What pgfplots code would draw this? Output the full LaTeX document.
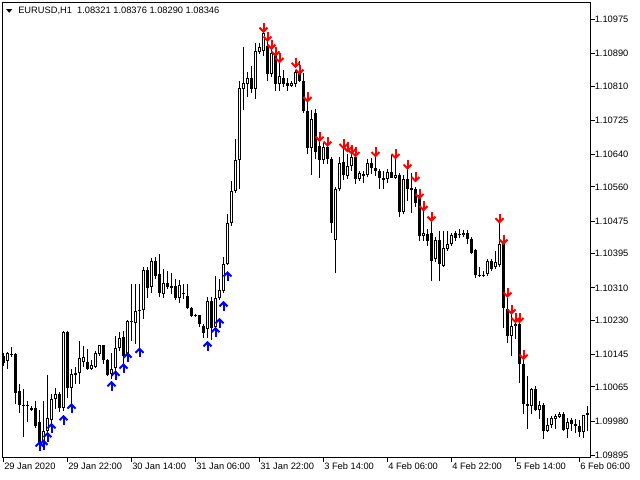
\documentclass[border=0pt]{standalone}
\usepackage{pgfplots}
\pgfplotsset{compat=1.18}
\usepackage{pgfplotstable}
\usepackage{fontspec}
\setmainfont{Liberation Sans}

\pgfplotstableread{
i o h l c
0 1.10143 1.10150 1.10118 1.10125
1 1.10128 1.10153 1.10110 1.10148
2 1.10148 1.10165 1.10140 1.10145
3 1.10148 1.10150 1.10024 1.10051
4 1.10056 1.10073 1.09999 1.10021
5 1.10021 1.10061 1.09942 1.10019
6 1.10021 1.10031 1.09977 1.10019
7 1.10014 1.10019 1.10006 1.10011
8 1.10014 1.10031 1.09964 1.09969
9 1.09977 1.10009 1.09920 1.09927
10 1.09932 1.10031 1.09917 1.09957
11 1.09957 1.10096 1.09952 1.09989
12 1.09984 1.10049 1.09972 1.10036
13 1.10036 1.10063 1.10011 1.10049
14 1.10049 1.10054 1.10004 1.10014
15 1.10014 1.10205 1.10006 1.10202
16 1.10202 1.10205 1.10039 1.10063
17 1.10063 1.10111 1.10021 1.10098
18 1.10101 1.10115 1.10073 1.10098
19 1.10101 1.10180 1.10073 1.10138
20 1.10128 1.10167 1.10115 1.10140
21 1.10128 1.10160 1.10108 1.10110
22 1.10110 1.10133 1.10108 1.10120
23 1.10115 1.10155 1.10113 1.10150
24 1.10148 1.10170 1.10143 1.10170
25 1.10170 1.10170 1.10123 1.10133
26 1.10133 1.10135 1.10093 1.10096
27 1.10096 1.10150 1.10086 1.10110
28 1.10113 1.10190 1.10098 1.10162
29 1.10162 1.10202 1.10155 1.10187
30 1.10190 1.10205 1.10118 1.10143
31 1.10145 1.10232 1.10143 1.10229
32 1.10227 1.10321 1.10180 1.10229
33 1.10224 1.10321 1.10172 1.10254
34 1.10254 1.10321 1.10150 1.10257
35 1.10257 1.10363 1.10234 1.10356
36 1.10356 1.10363 1.10286 1.10311
37 1.10314 1.10383 1.10296 1.10378
38 1.10378 1.10388 1.10333 1.10341
39 1.10343 1.10393 1.10286 1.10296
40 1.10296 1.10358 1.10286 1.10323
41 1.10323 1.10353 1.10309 1.10314
42 1.10311 1.10348 1.10296 1.10316
43 1.10316 1.10333 1.10279 1.10286
44 1.10286 1.10331 1.10274 1.10319
45 1.10299 1.10321 1.10284 1.10296
46 1.10291 1.10321 1.10259 1.10262
47 1.10262 1.10264 1.10239 1.10242
48 1.10244 1.10247 1.10239 1.10242
49 1.10242 1.10244 1.10212 1.10220
50 1.10217 1.10222 1.10187 1.10200
51 1.10210 1.10289 1.10187 1.10279
52 1.10279 1.10289 1.10182 1.10212
53 1.10212 1.10341 1.10192 1.10284
54 1.10284 1.10333 1.10279 1.10304
55 1.10304 1.10386 1.10299 1.10371
56 1.10371 1.10494 1.10366 1.10472
57 1.10472 1.10576 1.10465 1.10551
58 1.10551 1.10680 1.10546 1.10628
59 1.10628 1.10824 1.10556 1.10807
60 1.10804 1.10906 1.10750 1.10819
61 1.10816 1.10846 1.10782 1.10831
62 1.10831 1.10859 1.10794 1.10804
63 1.10802 1.10916 1.10779 1.10896
64 1.10893 1.10918 1.10891 1.10906
65 1.10898 1.10948 1.10886 1.10943
66 1.10911 1.10923 1.10824 1.10841
67 1.10841 1.10903 1.10834 1.10893
68 1.10893 1.10903 1.10799 1.10816
69 1.10816 1.10873 1.10799 1.10836
70 1.10831 1.10849 1.10807 1.10816
71 1.10819 1.10831 1.10799 1.10811
72 1.10811 1.10824 1.10809 1.10819
73 1.10816 1.10849 1.10807 1.10846
74 1.10846 1.10873 1.10819 1.10824
75 1.10824 1.10844 1.10745 1.10750
76 1.10750 1.10777 1.10643 1.10658
77 1.10658 1.10750 1.10589 1.10730
78 1.10745 1.10755 1.10631 1.10646
79 1.10663 1.10673 1.10584 1.10628
80 1.10628 1.10668 1.10618 1.10660
81 1.10660 1.10668 1.10618 1.10631
82 1.10631 1.10636 1.10447 1.10472
83 1.10430 1.10561 1.10348 1.10556
84 1.10556 1.10636 1.10551 1.10621
85 1.10621 1.10658 1.10579 1.10589
86 1.10589 1.10643 1.10581 1.10613
87 1.10613 1.10650 1.10601 1.10636
88 1.10636 1.10646 1.10569 1.10581
89 1.10581 1.10601 1.10576 1.10594
90 1.10591 1.10601 1.10571 1.10589
91 1.10591 1.10631 1.10586 1.10621
92 1.10621 1.10633 1.10594 1.10608
93 1.10608 1.10638 1.10589 1.10601
94 1.10601 1.10606 1.10556 1.10584
95 1.10584 1.10601 1.10556 1.10579
96 1.10581 1.10606 1.10571 1.10598
97 1.10598 1.10638 1.10581 1.10584
98 1.10584 1.10633 1.10581 1.10591
99 1.10591 1.10596 1.10485 1.10499
100 1.10499 1.10589 1.10494 1.10581
101 1.10581 1.10606 1.10527 1.10556
102 1.10559 1.10594 1.10497 1.10556
103 1.10556 1.10561 1.10512 1.10522
104 1.10542 1.10546 1.10428 1.10440
105 1.10440 1.10502 1.10428 1.10447
106 1.10445 1.10457 1.10415 1.10428
107 1.10447 1.10477 1.10328 1.10378
108 1.10383 1.10437 1.10373 1.10430
109 1.10430 1.10452 1.10328 1.10371
110 1.10366 1.10452 1.10363 1.10410
111 1.10408 1.10452 1.10403 1.10420
112 1.10420 1.10445 1.10415 1.10442
113 1.10445 1.10452 1.10428 1.10432
114 1.10445 1.10457 1.10435 1.10442
115 1.10442 1.10455 1.10437 1.10447
116 1.10447 1.10455 1.10420 1.10432
117 1.10432 1.10437 1.10395 1.10398
118 1.10403 1.10408 1.10336 1.10343
119 1.10343 1.10361 1.10336 1.10341
120 1.10341 1.10353 1.10338 1.10343
121 1.10346 1.10383 1.10341 1.10378
122 1.10378 1.10383 1.10353 1.10358
123 1.10361 1.10403 1.10358 1.10373
124 1.10366 1.10472 1.10363 1.10420
125 1.10420 1.10425 1.10212 1.10259
126 1.10259 1.10286 1.10175 1.10192
127 1.10192 1.10247 1.10143 1.10217
128 1.10217 1.10227 1.10185 1.10222
129 1.10222 1.10227 1.10076 1.10123
130 1.10123 1.10135 1.09999 1.10024
131 1.10024 1.10093 1.09962 1.10019
132 1.10019 1.10063 1.09999 1.10061
133 1.10061 1.10068 1.10006 1.10009
134 1.10009 1.10031 1.09987 1.10021
135 1.10021 1.10024 1.09935 1.09957
136 1.09957 1.09989 1.09954 1.09972
137 1.09972 1.09994 1.09962 1.09989
138 1.09987 1.09999 1.09962 1.09994
139 1.09992 1.10004 1.09989 1.09999
140 1.09999 1.10004 1.09957 1.09959
141 1.09962 1.09989 1.09940 1.09979
142 1.09982 1.09989 1.09957 1.09974
143 1.09974 1.09987 1.09952 1.09969
144 1.09969 1.09982 1.09940 1.09954
145 1.09954 1.09997 1.09940 1.09997
146 1.09997 1.10019 1.09957 1.09999
}\candles

\pgfplotstableread{
i y
9 1.09917
10 1.09921
11 1.09940
12 1.09962
15 1.09982
17 1.10011
27 1.10066
28 1.10092
30 1.10110
31 1.10137
34 1.10149
51 1.10165
53 1.10200
54 1.10222
55 1.10264
56 1.10338
}\buys

\pgfplotstableread{
i y
65 1.10955
66 1.10933
67 1.10913
68 1.10896
69 1.10880
73 1.10868
74 1.10851
76 1.10783
79 1.10685
81 1.10673
85 1.10667
86 1.10659
87 1.10654
88 1.10647
93 1.10647
98 1.10642
101 1.10616
103 1.10585
104 1.10543
105 1.10513
107 1.10487
124 1.10483
125 1.10430
126 1.10299
127 1.10257
128 1.10236
129 1.10236
130 1.10145
}\sells

\pgfdeclareplotmark{uparr}{%
  \pgfsetlinewidth{1.5bp}\pgfsetbuttcap\pgfsetmiterjoin
  \pgfpathmoveto{\pgfpoint{0bp}{-3.4bp}}\pgfpathlineto{\pgfpoint{0bp}{3bp}}\pgfusepathqstroke
  \pgfpathmoveto{\pgfpoint{-3bp}{0.1bp}}\pgfpathlineto{\pgfpoint{0bp}{3.1bp}}\pgfpathlineto{\pgfpoint{3bp}{0.1bp}}\pgfusepathqstroke}
\pgfdeclareplotmark{dnarr}{%
  \pgfsetlinewidth{1.5bp}\pgfsetbuttcap\pgfsetmiterjoin
  \pgfpathmoveto{\pgfpoint{0bp}{3.4bp}}\pgfpathlineto{\pgfpoint{0bp}{-3bp}}\pgfusepathqstroke
  \pgfpathmoveto{\pgfpoint{-3bp}{-0.1bp}}\pgfpathlineto{\pgfpoint{0bp}{-3.1bp}}\pgfpathlineto{\pgfpoint{3bp}{-0.1bp}}\pgfusepathqstroke}

\pgfplotsset{candlepart/.style={only marks, mark size=0pt, mark options={draw=none, fill=none}}}

\begin{document}
\begin{tikzpicture}
\useasboundingbox (0bp,0bp) rectangle (480bp,360bp);
\fill[white] (0bp,0bp) rectangle (480bp,360bp);
\begin{axis}[
  at={(1.875bp,16.875bp)}, anchor=south west,
  scale only axis, width=441bp, height=341.25bp,
  xmin=-0.25, xmax=146.75, ymin=1.09890, ymax=1.11017,
  axis line style={line width=0.75bp, black},
  tick style={line width=0.75bp, black},
  tick align=outside, major tick length=3bp,
  xtick pos=bottom, ytick pos=right,
  xtick={0,16,32,48,64,80,96,112,128,144},
  xticklabels={29 Jan 2020, 29 Jan 22:00, 30 Jan 14:00, 31 Jan 06:00, 31 Jan 22:00, 3 Feb 14:00, 4 Feb 06:00, 4 Feb 22:00, 5 Feb 14:00, 6 Feb 06:00},
  ytick={1.09895,1.09980,1.10065,1.10145,1.10230,1.10310,1.10395,1.10475,1.10560,1.10640,1.10725,1.10810,1.10890,1.10975},
  yticklabels={1.09895,1.09980,1.10065,1.10145,1.10230,1.10310,1.10395,1.10475,1.10560,1.10640,1.10725,1.10810,1.10890,1.10975},
  xticklabel style={anchor=north west, inner sep=0pt, font=\fontsize{7}{8}\selectfont, xshift=0.4pt, yshift=-0.8pt},
  yticklabel style={anchor=west, inner sep=0pt, font=\fontsize{7}{8}\selectfont, xshift=0pt},
  clip=true,
]
% wicks
\addplot[candlepart,
  error bars/.cd, y dir=both, y explicit, error mark=none,
  error bar style={line width=0.75bp, black, line cap=butt}]
  table[x=i, y expr={(\thisrow{h}+\thisrow{l})/2}, y error expr={(\thisrow{h}-\thisrow{l})/2}] {\candles};
% bodies (outline)
\addplot[candlepart,
  error bars/.cd, y dir=both, y explicit, error mark=none,
  error bar style={line width=2.25bp, black, line cap=butt}]
  table[x=i, y expr={(\thisrow{o}+\thisrow{c})/2}, y error expr={(\thisrow{c}-\thisrow{o})/2}] {\candles};
% minimal 1px body for dojis
\addplot[candlepart,
  error bars/.cd, y dir=both, y explicit, error mark=none,
  error bar style={line width=2.25bp, black, line cap=butt}]
  table[x=i, y expr={(\thisrow{o}+\thisrow{c})/2}, y error expr={0.0000124}] {\candles};
% hollow interior of rising candles
\addplot[candlepart,
  restrict expr to domain={(\thisrow{c}-\thisrow{o})*100000}{5:1000},
  error bars/.cd, y dir=both, y explicit, error mark=none,
  error bar style={line width=0.75bp, white, line cap=butt}]
  table[x=i, y expr={(\thisrow{o}+\thisrow{c})/2}, y error expr={(\thisrow{c}-\thisrow{o})/2-0.0000248}] {\candles};
\addplot[only marks, mark=uparr, color=blue, mark options={draw=blue}] table[x=i, y=y] {\buys};
\addplot[only marks, mark=dnarr, color=red, mark options={draw=red}] table[x=i, y=y] {\sells};
\end{axis}
\fill[black] (4.6bp,353.2bp) -- (9.2bp,353.2bp) -- (6.9bp,350.4bp) -- cycle;
\node[anchor=west, inner sep=0pt, font=\fontsize{7}{8}\selectfont] at (13.5bp,351.75bp) {EURUSD,H1\ \ 1.08321 1.08376 1.08290 1.08346};
\end{tikzpicture}
\end{document}
